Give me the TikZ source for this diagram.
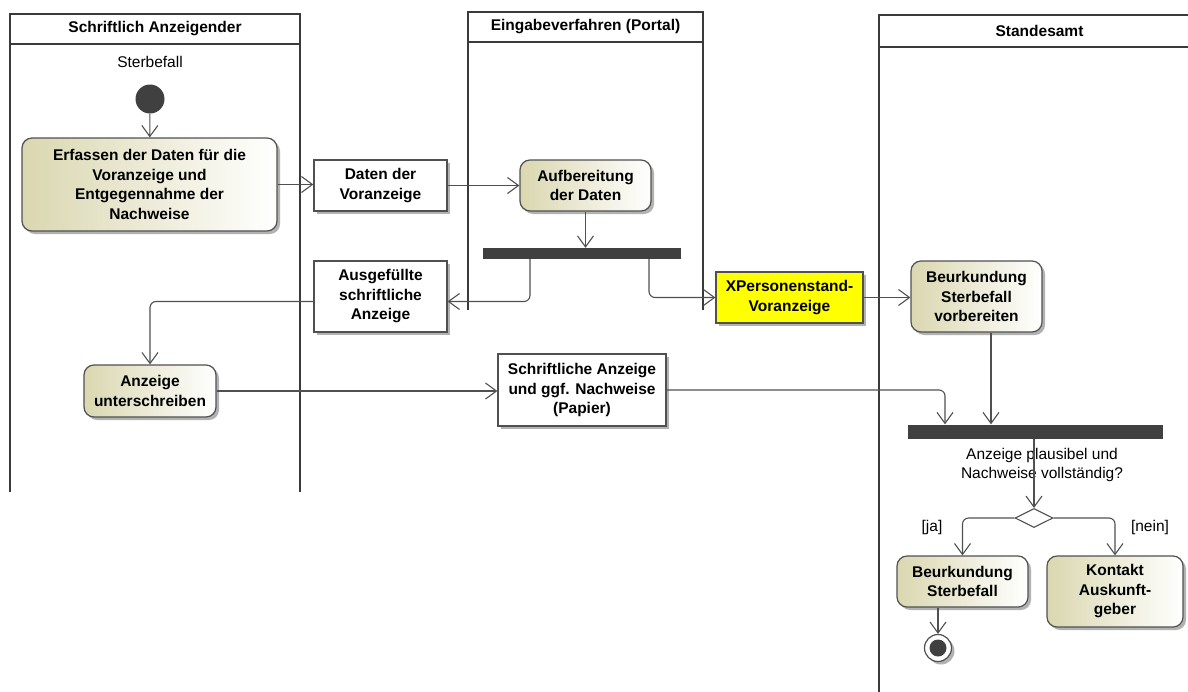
\documentclass[tikz,border=0pt]{standalone}
\usepackage{fontspec}
\setmainfont{Liberation Sans}
\usepackage{tikz}
\usetikzlibrary{positioning,arrows.meta,calc,shapes.geometric,shadows}
\definecolor{lanegray}{RGB}{58,58,58}
\definecolor{flowgray}{RGB}{80,80,80}
\definecolor{barfill}{RGB}{64,64,64}
\definecolor{actolive}{RGB}{218,215,176}
\definecolor{objyellow}{RGB}{255,255,0}

\begin{document}
\begin{tikzpicture}[
  x=1pt,y=-1pt,
  font=\fontsize{15.5}{19.5}\selectfont,
  laneh/.style={draw=lanegray,line width=2.4pt},
  shadh/.style={drop shadow={shadow xshift=3pt,shadow yshift=-3pt,fill=black!30,opacity=1}},
  acth/.style={draw=flowgray,line width=1.2pt,rounded corners=10pt,left color=actolive,right color=white,
    align=center,inner sep=0pt,font=\fontsize{15.5}{19.5}\selectfont\bfseries,shadh},
  objh/.style={draw=flowgray,line width=1.2pt,fill=white,align=center,inner sep=0pt,
    font=\fontsize{15.5}{19.5}\selectfont\bfseries,shadh},
  barh/.style={fill=barfill,inner sep=0pt},
  flowh/.style={draw=flowgray,line width=1.1pt,rounded corners=6pt,-{Straight Barb[length=11pt,width=16pt]}},
  plainh/.style={align=center,inner sep=0pt}
]
  \useasboundingbox (0,0) rectangle (1188,691);

  % lanes: left/right/top/separator/bottom/title
  \foreach \xl/\xr/\yt/\ys/\yb/\ttl [count=\i] in {%
     10/300/14/44/492/{Schriftlich Anzeigender},
    468/703/12/42/310/{Eingabeverfahren (Portal)},
    879/1200/15/47/700/{Standesamt}%
  }{
    \draw[laneh] (\xl,\yb) -- (\xl,\yt) -- (\xr,\yt) -- (\xr,\yb);
    \draw[laneh] (\xl,\ys) -- (\xr,\ys);
    \node[font=\fontsize{15.5}{19.5}\selectfont\bfseries] (lane\i) at ({(\xl+\xr)/2},{(\yt+\ys)/2}) {\ttl};
  }

  % Schriftlich Anzeigender
  \node[plainh] (sterb) at (150,62) {Sterbefall};
  \node[circle,fill=barfill,minimum size=29pt,inner sep=0pt] (start) at (150,99) {};
  \node[acth,minimum width=255pt,minimum height=93pt] (erfassen) at (149.5,184.5)
    {Erfassen der Daten für die\\Voranzeige und\\Entgegennahme der\\Nachweise};
  \node[acth,minimum width=132pt,minimum height=52pt] (unter) at (150,391)
    {Anzeige\\unterschreiben};

  % objects between lanes
  \node[objh,minimum width=133pt,minimum height=51pt] (daten) at (380.5,185.5) {Daten der\\Voranzeige};
  \node[objh,minimum width=133pt,minimum height=71pt] (ausg) at (380.5,296.5) {Ausgefüllte\\schriftliche\\Anzeige};
  \node[objh,minimum width=168pt,minimum height=72pt] (papier) at (582,390)
    {Schriftliche Anzeige\\und ggf. Nachweise\\(Papier)};
  \node[objh,fill=objyellow,minimum width=147pt,minimum height=51pt] (xpers) at (789.5,297.5)
    {XPersonenstand-\\Voranzeige};

  % Eingabeverfahren
  \node[acth,minimum width=131pt,minimum height=51pt] (aufb) at (585.5,185.5) {Aufbereitung\\der Daten};
  \node[barh,minimum width=198pt,minimum height=11pt] (bar1) at (582,253.5) {};

  % Standesamt
  \node[acth,minimum width=131pt,minimum height=71pt] (vorb) at (976.5,296.5)
    {Beurkundung\\Sterbefall\\vorbereiten};
  \node[barh,minimum width=255pt,minimum height=14pt] (bar2) at (1035.5,431.5) {};
  \node[plainh] (frage) at (1042,465) {Anzeige plausibel und\\Nachweise vollständig?};
  \node[diamond,draw=flowgray,line width=1.1pt,fill=white,minimum width=38pt,minimum height=19pt,inner sep=0pt]
    (dia) at (1034,518) {};
  \node[plainh] (ja) at (932,527) {[ja]};
  \node[plainh] (nein) at (1150,527) {[nein]};
  \node[acth,minimum width=131pt,minimum height=51pt] (beurk) at (962.5,581.5) {Beurkundung\\Sterbefall};
  \node[acth,minimum width=136pt,minimum height=71pt] (kontakt) at (1115,591.5) {Kontakt\\Auskunft-\\geber};
  \node[circle,draw=flowgray,line width=1.2pt,fill=white,minimum size=27pt,inner sep=0pt,shadh] (ende) at (938,648) {};
  \fill[barfill] (ende.center) circle (8.5pt);

  % flows
  \draw[flowh] (start) -- (erfassen);
  \draw[flowh] (erfassen.east) -- (erfassen.east -| daten.west);
  \draw[flowh] (daten.east) -- (daten.east -| aufb.west);
  \draw[flowh] (aufb) -- (aufb |- bar1.north);
  \draw[flowh] ($(bar1.south)+(-52,0)$) |- ($(ausg.east)+(0,5)$);
  \draw[flowh] ($(bar1.south)+(67,0)$) |- (xpers.west);
  \draw[flowh] (xpers.east) -- (xpers.east -| vorb.west);
  \draw[flowh] ($(ausg.west)+(0,5)$) -| (unter.north);
  \draw[flowh] (unter.east) -- (unter.east -| papier.west);
  \draw[flowh] (papier.east) -| ($(bar2.north)+(-90.5,0)$);
  \draw[flowh] ($(vorb.south)+(14.5,0)$) -- ($(vorb.south |- bar2.north)+(14.5,0)$);
  \draw[flowh] (dia.north |- bar2.south) -- (dia.north);
  \draw[flowh] (dia.west) -| (beurk.north);
  \draw[flowh] (dia.east) -| (kontakt.north);
  \draw[flowh] (ende |- beurk.south) -- (ende);
\end{tikzpicture}
\end{document}
